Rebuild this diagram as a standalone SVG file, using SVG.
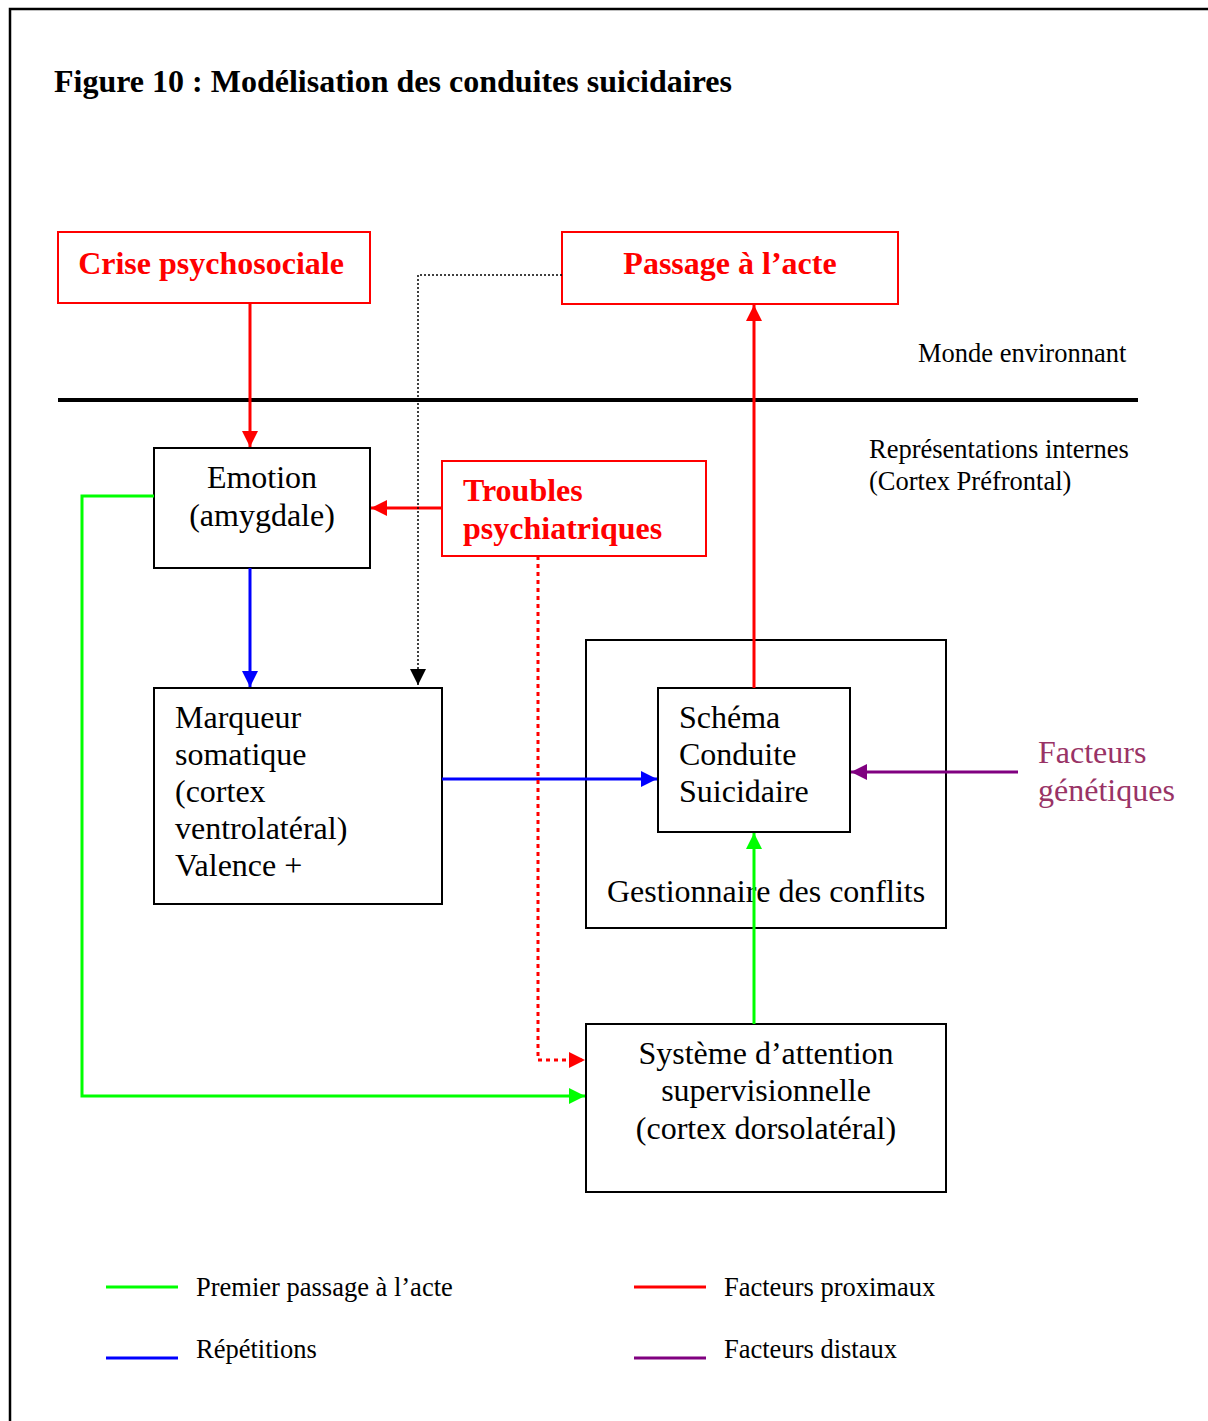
<svg xmlns="http://www.w3.org/2000/svg" width="1208" height="1421" viewBox="0 0 1208 1421">
<defs>
<style>
text{font-family:"Liberation Serif","Times New Roman",serif;}
.box{fill:none;stroke:#000;stroke-width:2;}
.rbox{fill:none;stroke:#ff0000;stroke-width:2;}
.t{font-size:32px;fill:#000;}
.rt{font-size:32px;font-weight:bold;fill:#ff0000;}
.s{font-size:26.5px;fill:#000;}
.c{fill:none;stroke-width:3;}
</style>
<marker id="aR" viewBox="0 0 10 10" refX="10" refY="5" markerWidth="16" markerHeight="16" markerUnits="userSpaceOnUse" orient="auto"><path d="M0,0L10,5L0,10z" fill="#ff0000"/></marker>
<marker id="aB" viewBox="0 0 10 10" refX="10" refY="5" markerWidth="16" markerHeight="16" markerUnits="userSpaceOnUse" orient="auto"><path d="M0,0L10,5L0,10z" fill="#0000ff"/></marker>
<marker id="aG" viewBox="0 0 10 10" refX="10" refY="5" markerWidth="16" markerHeight="16" markerUnits="userSpaceOnUse" orient="auto"><path d="M0,0L10,5L0,10z" fill="#00ff00"/></marker>
<marker id="aP" viewBox="0 0 10 10" refX="10" refY="5" markerWidth="16" markerHeight="16" markerUnits="userSpaceOnUse" orient="auto"><path d="M0,0L10,5L0,10z" fill="#800080"/></marker>
<marker id="aK" viewBox="0 0 10 10" refX="10" refY="5" markerWidth="16" markerHeight="16" markerUnits="userSpaceOnUse" orient="auto"><path d="M0,0L10,5L0,10z" fill="#000"/></marker>
</defs>
<rect x="0" y="0" width="1208" height="1421" fill="#fff"/>
<rect x="10" y="9" width="1220" height="1440" fill="none" stroke="#000" stroke-width="2.5"/>
<text x="54" y="92" style="font-size:32px;font-weight:bold">Figure 10 : Modélisation des conduites suicidaires</text>

<g id="environment">
<line x1="58" y1="400" x2="1138" y2="400" stroke="#000" stroke-width="4"/>
<text class="s" x="918" y="362">Monde environnant</text>
<text class="s" x="869" y="458">Représentations internes</text>
<text class="s" x="869" y="490">(Cortex Préfrontal)</text>
</g>

<g id="crise">
<rect class="rbox" x="58" y="232" width="312" height="71"/>
<text class="rt" x="211" y="274" text-anchor="middle">Crise psychosociale</text>
</g>
<g id="passage">
<rect class="rbox" x="562" y="232" width="336" height="72"/>
<text class="rt" x="730" y="274" text-anchor="middle">Passage à l’acte</text>
</g>
<g id="emotion">
<rect class="box" x="154" y="448" width="216" height="120"/>
<text class="t" x="262" y="488" text-anchor="middle">Emotion</text>
<text class="t" x="262" y="526" text-anchor="middle">(amygdale)</text>
</g>
<g id="troubles">
<rect class="rbox" x="442" y="461" width="264" height="95"/>
<text class="rt" x="463" y="501">Troubles</text>
<text class="rt" x="463" y="539">psychiatriques</text>
</g>
<g id="marqueur">
<rect class="box" x="154" y="688" width="288" height="216"/>
<text class="t" x="175" y="728">Marqueur</text>
<text class="t" x="175" y="765">somatique</text>
<text class="t" x="175" y="802">(cortex</text>
<text class="t" x="175" y="839">ventrolatéral)</text>
<text class="t" x="175" y="876">Valence +</text>
</g>
<g id="gestionnaire">
<rect class="box" x="586" y="640" width="360" height="288"/>
<text class="t" x="607" y="902">Gestionnaire des conflits</text>
</g>
<g id="schema">
<rect class="box" x="658" y="688" width="192" height="144"/>
<text class="t" x="679" y="728">Schéma</text>
<text class="t" x="679" y="765">Conduite</text>
<text class="t" x="679" y="802">Suicidaire</text>
</g>
<g id="systeme">
<rect class="box" x="586" y="1024" width="360" height="168"/>
<text class="t" x="766" y="1064" text-anchor="middle">Système d’attention</text>
<text class="t" x="766" y="1101" text-anchor="middle">supervisionnelle</text>
<text class="t" x="766" y="1139" text-anchor="middle">(cortex dorsolatéral)</text>
</g>
<g id="genetiques">
<text class="t" x="1038" y="763" style="fill:#993366">Facteurs</text>
<text class="t" x="1038" y="801" style="fill:#993366">génétiques</text>
</g>

<g id="connectors">
<path class="c" d="M250,303V447" stroke="#ff0000" marker-end="url(#aR)"/>
<path class="c" d="M442,508H371" stroke="#ff0000" marker-end="url(#aR)"/>
<path class="c" d="M250,568V687" stroke="#0000ff" marker-end="url(#aB)"/>
<path class="c" d="M442,779H657" stroke="#0000ff" marker-end="url(#aB)"/>
<path class="c" d="M754,688V305" stroke="#ff0000" marker-end="url(#aR)"/>
<path class="c" d="M1018,772H851" stroke="#800080" marker-end="url(#aP)"/>
<path class="c" d="M754,1024V833" stroke="#00ff00" marker-end="url(#aG)"/>
<path class="c" d="M154,496H82V1096H585" stroke="#00ff00" marker-end="url(#aG)"/>
<path class="c" d="M538,556V1060H585" stroke="#ff0000" stroke-dasharray="4,4" marker-end="url(#aR)"/>
<path fill="none" stroke="#000" stroke-width="1.5" stroke-dasharray="2,2" d="M562,275H418V685" marker-end="url(#aK)"/>
</g>

<g id="legend">
<line x1="106" y1="1287" x2="178" y2="1287" stroke="#00ff00" stroke-width="3"/>
<text class="s" x="196" y="1296">Premier passage à l’acte</text>
<line x1="106" y1="1358" x2="178" y2="1358" stroke="#0000ff" stroke-width="3"/>
<text class="s" x="196" y="1358">Répétitions</text>
<line x1="634" y1="1287" x2="706" y2="1287" stroke="#ff0000" stroke-width="3"/>
<text class="s" x="724" y="1296">Facteurs proximaux</text>
<line x1="634" y1="1358" x2="706" y2="1358" stroke="#800080" stroke-width="3"/>
<text class="s" x="724" y="1358">Facteurs distaux</text>
</g>
</svg>
